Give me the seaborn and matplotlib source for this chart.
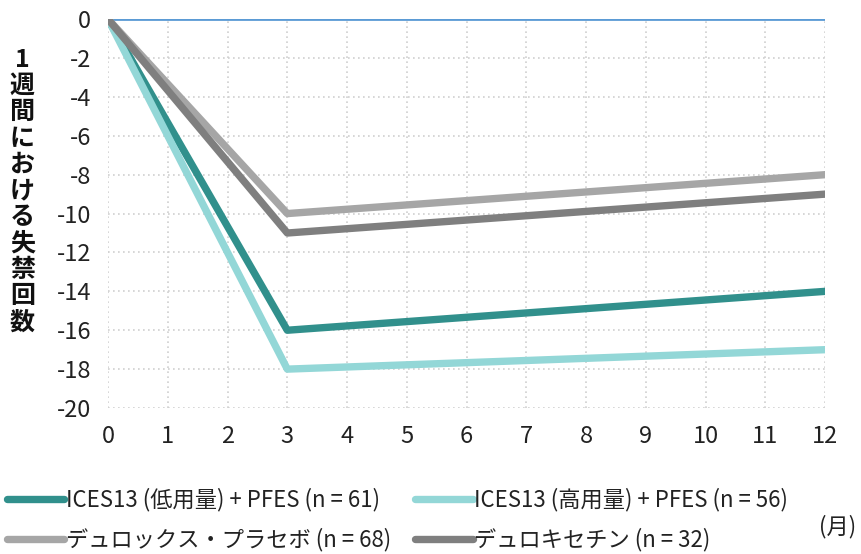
import matplotlib
matplotlib.use("Agg")
import matplotlib.pyplot as plt
import seaborn as sns
import pandas as pd
from matplotlib.lines import Line2D

months = [0, 3, 12]
low_dose = [0, -16, -14]
high_dose = [0, -18, -17]
placebo = [0, -10, -8]
duloxetine = [0, -11, -9]

series_names = [
    "ICES13 (低用量) + PFES (n = 61)",
    "ICES13 (高用量) + PFES (n = 56)",
    "デュロックス・プラセボ (n = 68)",
    "デュロキセチン (n = 32)",
]
series_values = [low_dose, high_dose, placebo, duloxetine]
colors = ["#31908C", "#93D7D7", "#A6A6A6", "#7F7F7F"]

x_ticks = list(range(0, 13))
y_ticks = list(range(0, -21, -2))

sns.set_theme(style="white")
plt.rcParams["font.family"] = ["Noto Sans CJK JP", "DejaVu Sans"]

rows = []
for name, vals in zip(series_names, series_values):
    for m, v in zip(months, vals):
        rows.append({"month": m, "value": v, "series": name})
df = pd.DataFrame(rows)

fig = plt.figure(figsize=(8.62, 5.54), dpi=100)
ax = fig.add_axes([0.1253, 0.2635, 0.832, 0.702])

for y in y_ticks:
    ax.axhline(y, color="#D0D0D0", lw=1.2, ls=(0, (1, 2)), zorder=0)
for x in x_ticks:
    ax.axvline(x, color="#D0D0D0", lw=1.2, ls=(0, (1, 2)), zorder=0)

# zero baseline
ax.plot([0, 12], [0, 0], color="#5B9BD5", lw=2, zorder=1, solid_capstyle="butt")

sns.lineplot(data=df, x="month", y="value", hue="series",
             hue_order=series_names, palette=colors, lw=5.3,
             ax=ax, legend=False, zorder=2)

ax.set_xlim(0, 12)
ax.set_ylim(-20, 0)
ax.set_xticks(x_ticks)
ax.set_yticks(y_ticks)
ax.set_xticklabels([str(t) for t in x_ticks])
ax.set_yticklabels([str(t) for t in y_ticks])
ax.tick_params(axis="both", labelsize=17, colors="#222222", length=0)
ax.tick_params(axis="x", pad=12)
ax.tick_params(axis="y", pad=12)
for s in ax.spines.values():
    s.set_visible(False)
ax.set_xlabel("")
ax.set_ylabel("")

ylabel = "\n".join(["1", "週", "間", "に", "お", "け", "る", "失", "禁", "回", "数"])
fig.text(0.026, 0.655, ylabel, fontsize=18, fontweight="bold",
         ha="center", va="center", linespacing=1.12, color="#111111")

fig.text(0.972, 0.050, "(月)", fontsize=16, ha="center", va="center",
         color="#222222")

handles = [Line2D([0], [0], color=c, lw=5.3, solid_capstyle="round") for c in colors]
order = [0, 2, 1, 3]
leg = fig.legend([handles[i] for i in order], [series_names[i] for i in order],
                 ncol=2, loc="lower left", bbox_to_anchor=(0.0, -0.008),
                 frameon=False, fontsize=16, handlelength=2.6,
                 handletextpad=0.05, columnspacing=1.1, labelspacing=0.75,
                 borderaxespad=0.1, borderpad=0.2)
for t in leg.get_texts():
    t.set_color("#222222")

fig.savefig("out.png", dpi=100)
